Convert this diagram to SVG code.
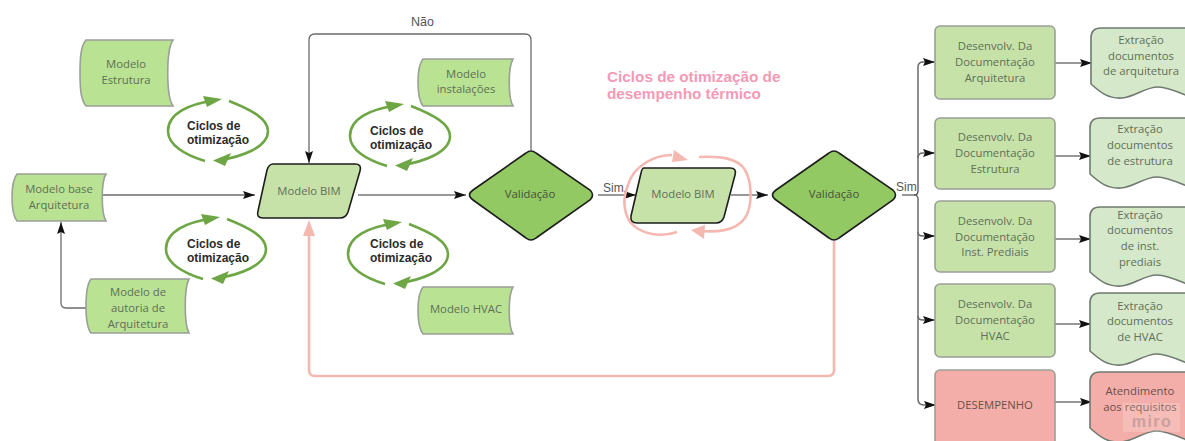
<svg xmlns="http://www.w3.org/2000/svg" width="1185" height="441" viewBox="0 0 1185 441">
<style>
.t{font-family:"Open Sans","Liberation Sans",sans-serif;font-size:11.3px;fill:#5f6f58;text-anchor:middle}
.d{fill:#44513c}
.b{font-family:"Liberation Sans",Arial,sans-serif;font-size:12px;font-weight:bold;fill:#2b2b2b}
.l{font-family:"Liberation Sans",Arial,sans-serif;font-size:12.5px;fill:#555}
.h{font-family:"Liberation Sans",Arial,sans-serif;font-size:15.3px;font-weight:bold;fill:#f29ab6}
.s{fill:#b9e292;stroke:#9a9f98;stroke-width:1.6}
.box{fill:#c6e2a8;stroke:#9a9f98;stroke-width:1.6}
.doc{fill:#d6e8ca;stroke:#6f7a70;stroke-width:1.6}
.par{fill:#c6e2a8;stroke:#1d1d1d;stroke-width:1.6}
.dia{fill:#93c962;stroke:#1d1d1d;stroke-width:1.6}
.c{fill:none;stroke:#333;stroke-width:1.1}
.c2{fill:none;stroke:#6b6b6b;stroke-width:1.3}
.c3{fill:none;stroke:#6b6b6b;stroke-width:1.5}
.cy{fill:none;stroke:#6ea645;stroke-width:2.6}
.p{fill:none;stroke:#f5b8b0;stroke-width:2.6}
</style>
<defs>
<marker id="a" viewBox="0 0 12 8" refX="12" refY="4" markerWidth="12" markerHeight="8" markerUnits="userSpaceOnUse" orient="auto"><path d="M0,0L12,4L0,8L2,4z" fill="#111"/></marker>
<g id="cycle">
<path class="cy" d="M229,101C252,110 268,119 268,131C268,148 240,157 220,160"/>
<path d="M213,160.500L231,153L225,166z" fill="#6ea645"/>
<path class="cy" d="M205,161C185,155 168,145 168,131C168,113 190,104 212,101"/>
<path d="M222,99L203,96L207,107z" fill="#6ea645"/>
</g>
<clipPath id="clipA"><rect x="86" y="279" width="103" height="52"/></clipPath>
</defs>

<g id="connectors">
<path class="c2" d="M103,195H255" marker-end="url(#a)"/>
<path class="c2" d="M86,308H66Q61,308 61,303V222" marker-end="url(#a)"/>
<path class="c2" d="M531,150V40Q531,34 525,34H315Q309,34 309,40V163" marker-end="url(#a)"/>
<path class="c" d="M358,195H466" marker-end="url(#a)"/>
<path class="c" d="M598,195H636" marker-end="url(#a)"/>
<path class="c" d="M731,195H768" marker-end="url(#a)"/>
<path class="c" d="M902,195H914Q918,195 918,191"/>
<path class="c3" d="M918,191V67Q918,62 923,62H935" marker-end="url(#a)"/>
<path class="c3" d="M918,158Q918,153 923,153H935" marker-end="url(#a)"/>
<path class="c3" d="M914,195Q918,195 918,199V399Q918,405 924,405H936" marker-end="url(#a)"/>
<path class="c3" d="M918,232Q918,236 923,236H935" marker-end="url(#a)"/>
<path class="c3" d="M918,316Q918,320 923,320H935" marker-end="url(#a)"/>
<path class="c" d="M1055,63H1092" marker-end="url(#a)"/>
<path class="c" d="M1055,156H1091" marker-end="url(#a)"/>
<path class="c" d="M1055,239H1091" marker-end="url(#a)"/>
<path class="c" d="M1055,324H1091" marker-end="url(#a)"/>
<path class="c" d="M1055,402H1092" marker-end="url(#a)"/>
<path class="p" d="M834,241V370Q834,376 828,376H315Q309,376 309,370V232"/>
<path d="M309,220L303,236H315z" fill="#f5b8b0"/>
</g>

<g id="node-estrutura"><path class="s" d="M86,40H173C166,50 166,96 173,106H86C81,100 80,90 80,73C80,56 81,46 86,40z"/><text class="t" x="126" y="68">Modelo</text><text class="t" x="126" y="84">Estrutura</text></g>
<g id="node-base"><path class="s" d="M17,174H106C101,182 101,213 106,221H17C13,216 12,207 12,197C12,187 13,179 17,174z"/><text class="t" x="59" y="193">Modelo base</text><text class="t" x="59" y="209">Arquitetura</text></g>
<g id="node-autoria"><path class="s" d="M91,279H189C184,288 184,324 189,333H91C87,328 86,318 86,306C86,294 87,284 91,279z"/><g clip-path="url(#clipA)"><text class="t" x="138" y="296">Modelo de</text><text class="t" x="138" y="312">autoria de</text><text class="t" x="138" y="328">Arquitetura</text></g></g>
<g id="node-instalacoes"><path class="s" d="M423,59H513C508,67 508,98 513,106H423C419,101 418,92 418,82C418,72 419,64 423,59z"/><text class="t" x="466" y="78">Modelo</text><text class="t" x="466" y="93">instalações</text></g>
<g id="node-hvac"><path class="s" d="M423,287H513C508,295 508,326 513,334H423C419,329 418,320 418,310C418,300 419,292 423,287z"/><text class="t" x="466" y="313">Modelo HVAC</text></g>

<g id="cycle-1"><use href="#cycle"/><text class="b" x="187" y="130">Ciclos de</text><text class="b" x="187" y="144">otimização</text></g>
<g id="cycle-2"><use href="#cycle" x="182" y="5"/><text class="b" x="370" y="135">Ciclos de</text><text class="b" x="370" y="149">otimização</text></g>
<g id="cycle-3"><use href="#cycle" x="-2" y="118"/><text class="b" x="187" y="248">Ciclos de</text><text class="b" x="187" y="262">otimização</text></g>
<g id="cycle-4"><use href="#cycle" x="180" y="123"/><text class="b" x="370" y="248">Ciclos de</text><text class="b" x="370" y="262">otimização</text></g>

<g id="node-bim1"><path class="par" d="M273,164H355Q362,164 360,171L348,212Q346,218 340,218H263Q256,218 258,211L267,170Q269,164 273,164z"/><text class="t" x="309" y="195">Modelo BIM</text></g>
<g id="node-val1"><path class="dia" d="M526,153Q531,149 536,153L590,190Q595,195 590,200L536,238Q531,242 526,238L473,200Q466,195 473,190z"/><text class="t d" x="530" y="198">Validação</text></g>

<g id="pink-cycle">
<path class="p" d="M677,232C660,238 640,234 630,222C624,212 622,200 628,185C634,165 655,155 672,155"/>
<path d="M688,160L674,150L672,162z" fill="#f5b8b0"/>
<path class="p" d="M699,157C720,156 738,158 745,170C752,182 753,205 745,218C735,232 715,232 700,231"/>
<path d="M691,230L705,225L704,239z" fill="#f5b8b0"/>
</g>
<g id="node-bim2"><path class="par" d="M644,168H730Q737,168 735,175L724,217Q722,223 716,223H637Q630,223 631,216L641,173Q642,168 644,168z"/><text class="t" x="683" y="198">Modelo BIM</text></g>
<g id="node-val2"><path class="dia" d="M829,153Q834,149 839,153L893,190Q898,195 893,200L839,238Q834,242 829,238L776,200Q769,195 776,190z"/><text class="t d" x="834" y="198">Validação</text></g>

<text class="l" x="411" y="26">Não</text>
<text class="l" x="603" y="192" style="font-size:12px">Sim</text>
<text class="l" x="896" y="191" style="font-size:12px">Sim</text>
<text class="h" x="607" y="82">Ciclos de otimização de</text>
<text class="h" x="607" y="99">desempenho térmico</text>

<g id="box-1"><rect class="box" x="935" y="26" width="120" height="73" rx="5"/><text class="t" x="995" y="50">Desenvolv. Da</text><text class="t" x="995" y="66">Documentação</text><text class="t" x="995" y="82">Arquitetura</text></g>
<g id="box-2"><rect class="box" x="935" y="118" width="120" height="71" rx="5"/><text class="t" x="995" y="141">Desenvolv. Da</text><text class="t" x="995" y="157">Documentação</text><text class="t" x="995" y="173">Estrutura</text></g>
<g id="box-3"><rect class="box" x="935" y="201" width="120" height="71" rx="5"/><text class="t" x="995" y="225">Desenvolv. Da</text><text class="t" x="995" y="241">Documentação</text><text class="t" x="995" y="256">Inst. Prediais</text></g>
<g id="box-4"><rect class="box" x="935" y="284" width="120" height="73" rx="5"/><text class="t" x="995" y="308">Desenvolv. Da</text><text class="t" x="995" y="324">Documentação</text><text class="t" x="995" y="340">HVAC</text></g>
<g id="box-5"><rect class="box" style="fill:#f4aea9" x="935" y="370" width="120" height="80" rx="5"/><text class="t" style="fill:#6a4f4c" x="995" y="409">DESEMPENHO</text></g>

<g id="doc-1"><path class="doc" d="M1192,28H1101Q1091,28 1091,38V84c9,8 17,15 31,14c13,-1 23,-11 36,-11c10,0 20,5 32,10z"/><text class="t" x="1141" y="44">Extração</text><text class="t" x="1141" y="60">documentos</text><text class="t" x="1141" y="75">de arquitetura</text></g>
<g id="doc-2"><path class="doc" d="M1192,118H1100Q1090,118 1090,128V174c9,8 17,15 31,14c13,-1 23,-11 36,-11c10,0 20,5 32,10z"/><text class="t" x="1140" y="133">Extração</text><text class="t" x="1140" y="149">documentos</text><text class="t" x="1140" y="165">de estrutura</text></g>
<g id="doc-3"><path class="doc" d="M1192,207H1100Q1090,207 1090,217V272c9,8 17,15 31,14c13,-1 23,-11 36,-11c10,0 20,5 32,10z"/><text class="t" x="1140" y="219">Extração</text><text class="t" x="1140" y="234">documentos</text><text class="t" x="1140" y="250">de inst.</text><text class="t" x="1140" y="266">prediais</text></g>
<g id="doc-4"><path class="doc" d="M1192,293H1100Q1090,293 1090,303V351c9,8 17,15 31,14c13,-1 23,-11 36,-11c10,0 20,5 32,10z"/><text class="t" x="1140" y="310">Extração</text><text class="t" x="1140" y="325">documentos</text><text class="t" x="1140" y="341">de HVAC</text></g>
<g id="doc-5"><path class="doc" style="fill:#f4aea9" d="M1192,372H1100Q1090,372 1090,382V428c9,8 17,15 31,14c13,-1 23,-11 36,-11c10,0 20,5 32,10z"/><text class="t" style="fill:#6a4f4c" x="1140" y="395">Atendimento</text><text class="t" style="fill:#6a4f4c" x="1140" y="411">aos requisitos</text></g>
<g id="watermark"><rect x="1123" y="403" width="57" height="29" fill="#fff" opacity=".18"/><text x="1152" y="427" style="font-family:'Liberation Sans',Arial,sans-serif;font-size:16px;font-weight:bold;letter-spacing:1.500px;fill:#c9a09e;text-anchor:middle">miro</text></g>
</svg>
